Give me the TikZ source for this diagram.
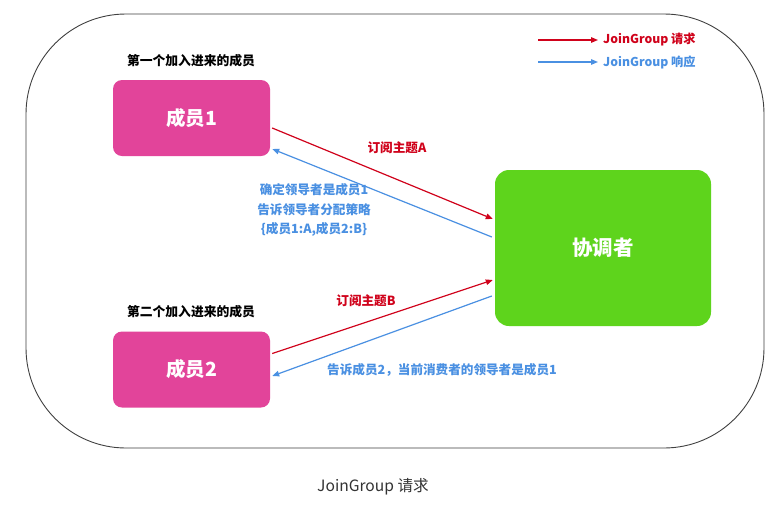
\documentclass[tikz,border=0pt]{standalone}
\usepackage{fontspec}
\setmainfont{Noto Sans CJK SC}
\usetikzlibrary{arrows.meta}
\definecolor{reqred}{HTML}{D0021B}
\definecolor{resblue}{HTML}{4A90E2}
\definecolor{memmag}{HTML}{E2449A}
\definecolor{coordgreen}{HTML}{5ED41C}
\definecolor{capgray}{HTML}{333333}
\tikzset{
  member/.style={fill=memmag, rounded corners=9pt, minimum width=157pt, minimum height=76pt, text=white, font=\fontsize{19.5}{22}\selectfont\bfseries, inner sep=0pt},
  coordbox/.style={fill=coordgreen, rounded corners=14pt, minimum width=216pt, minimum height=156pt, text=white, font=\fontsize{20.5}{24}\selectfont\bfseries, inner sep=0pt},
  title/.style={font=\fontsize{12.8}{15}\selectfont\bfseries, text=black, inner sep=0pt},
  redlbl/.style={font=\fontsize{12.6}{15}\selectfont\bfseries, text=reqred, inner sep=0pt},
  bluelbl/.style={font=\fontsize{12.6}{19.5}\selectfont\bfseries, text=resblue, inner sep=0pt, align=center},
  reqarrow/.style={draw=reqred, line width=1.2pt, -{Triangle[length=7pt,width=5.5pt]}},
  resarrow/.style={draw=resblue, line width=1.2pt, -{Triangle[length=7pt,width=5.5pt]}},
}
\begin{document}
\begin{tikzpicture}[x=1pt,y=-1pt]
\useasboundingbox (0,0) rectangle (776,504);
\fill[white] (0,0) rectangle (776,504);
\draw[draw=black!75, line width=0.9pt, rounded corners=100pt] (26,14) rectangle (764,448);

\node[title] (t1) at (191,61) {第一个加入进来的成员};
\node[title] (t2) at (191,312) {第二个加入进来的成员};

\node[member] (m1) at (191.5,118) {成员1};
\node[member] (m2) at (191.5,369.5) {成员2};
\node[coordbox] (co) at (603,248) {协调者};

% legend
\coordinate (lr1) at (538,40);
\coordinate (lr2) at (598,40);
\coordinate (lb1) at (538,62);
\coordinate (lb2) at (598,62);
\draw[reqarrow] (lr1) -- (lr2);
\draw[resarrow] (lb1) -- (lb2);
\node[redlbl, anchor=west, font=\fontsize{12.2}{15}\selectfont\bfseries] (lgr) at (603,40) {JoinGroup 请求};
\node[redlbl, anchor=west, text=resblue, font=\fontsize{12.2}{15}\selectfont\bfseries] (lgb) at (603,62) {JoinGroup 响应};

% arrows
\draw[reqarrow] ([shift={(2,10)}]m1.east) -- ([shift={(-2,-29)}]co.west);
\draw[resarrow] ([shift={(-3,-11)}]co.west) -- ([shift={(2,31)}]m1.east);
\draw[reqarrow] ([shift={(2,-16)}]m2.east) -- ([shift={(-2,32)}]co.west);
\draw[resarrow] ([shift={(-3,48)}]co.west) -- ([shift={(2,6.5)}]m2.east);

% labels
\node[redlbl] (la) at (397,148) {订阅主题A};
\node[bluelbl] (lb) at (314,210) {确定领导者是成员1\\告诉领导者分配策略\\\{成员1:A,成员2:B\}};
\node[redlbl] (lbb) at (366,301) {订阅主题B};
\node[bluelbl] (lc) at (442,370) {告诉成员2，当前消费者的领导者是成员1};

\node[font=\fontsize{15.6}{18}\selectfont, text=capgray, inner sep=0pt] (cap) at (373,487) {JoinGroup 请求};
\end{tikzpicture}
\end{document}
